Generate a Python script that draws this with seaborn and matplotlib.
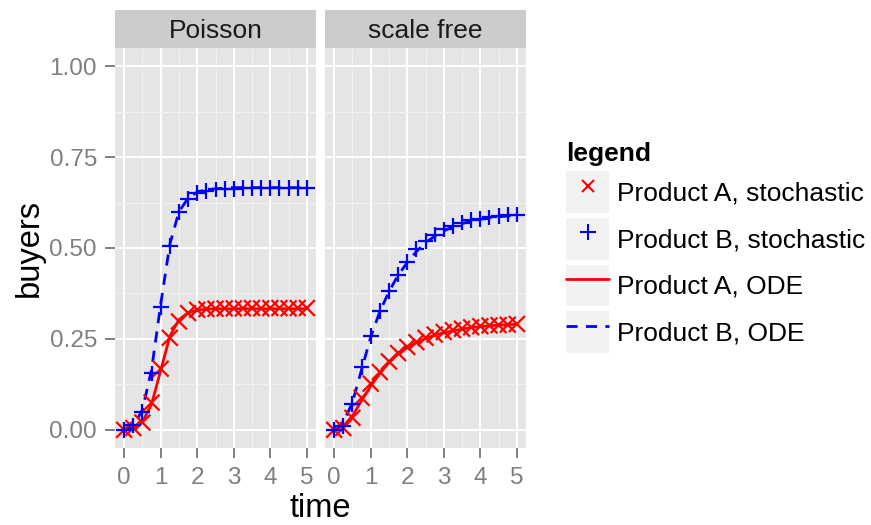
import pandas as pd
import matplotlib
matplotlib.use("Agg")
import matplotlib.pyplot as plt
from matplotlib.lines import Line2D
from matplotlib.patches import Patch
from matplotlib.ticker import MultipleLocator
import seaborn as sns

# 1. Data
time = [0.0, 0.25, 0.5, 0.75, 1.0, 1.25, 1.5, 1.75, 2.0, 2.25, 2.5,
        2.75, 3.0, 3.25, 3.5, 3.75, 4.0, 4.25, 4.5, 4.75, 5.0]
networks = ["Poisson", "scale free"]

# Poisson network
poisson_a_stoch = [0.0, 0.005, 0.02, 0.075, 0.168, 0.253, 0.298, 0.321, 0.330, 0.332, 0.333,
                   0.334, 0.334, 0.334, 0.335, 0.334, 0.335, 0.335, 0.334, 0.335, 0.335]
poisson_b_stoch = [0.0, 0.012, 0.05, 0.155, 0.337, 0.505, 0.598, 0.634, 0.652, 0.657, 0.661,
                   0.662, 0.663, 0.664, 0.664, 0.665, 0.665, 0.665, 0.665, 0.666, 0.665]
poisson_a_ode = [0.0, 0.004, 0.022, 0.07, 0.163, 0.257, 0.303, 0.322, 0.329, 0.332, 0.333,
                 0.333, 0.333, 0.333, 0.333, 0.333, 0.333, 0.333, 0.333, 0.333, 0.333]
poisson_b_ode = [0.0, 0.01, 0.055, 0.165, 0.345, 0.51, 0.60, 0.637, 0.654, 0.66, 0.663,
                 0.665, 0.666, 0.666, 0.666, 0.666, 0.666, 0.666, 0.666, 0.666, 0.666]

# scale free network
scalefree_a_stoch = [0.0, 0.005, 0.033, 0.088, 0.127, 0.159, 0.188, 0.211, 0.228, 0.241, 0.253,
                     0.262, 0.269, 0.274, 0.278, 0.282, 0.285, 0.287, 0.288, 0.289, 0.291]
scalefree_b_stoch = [0.0, 0.011, 0.072, 0.172, 0.259, 0.326, 0.381, 0.427, 0.461, 0.498, 0.519,
                     0.537, 0.551, 0.56, 0.57, 0.577, 0.58, 0.584, 0.588, 0.592, 0.592]
scalefree_a_ode = [0.0, 0.01, 0.038, 0.08, 0.12, 0.155, 0.185, 0.208, 0.226, 0.24, 0.251,
                   0.26, 0.267, 0.272, 0.277, 0.281, 0.284, 0.286, 0.288, 0.289, 0.29]
scalefree_b_ode = [0.0, 0.02, 0.075, 0.165, 0.255, 0.325, 0.38, 0.425, 0.46, 0.49, 0.515,
                   0.532, 0.547, 0.558, 0.567, 0.574, 0.579, 0.583, 0.586, 0.588, 0.59]

series = {
    ("Poisson", "A", "stochastic"): poisson_a_stoch,
    ("Poisson", "B", "stochastic"): poisson_b_stoch,
    ("Poisson", "A", "ODE"): poisson_a_ode,
    ("Poisson", "B", "ODE"): poisson_b_ode,
    ("scale free", "A", "stochastic"): scalefree_a_stoch,
    ("scale free", "B", "stochastic"): scalefree_b_stoch,
    ("scale free", "A", "ODE"): scalefree_a_ode,
    ("scale free", "B", "ODE"): scalefree_b_ode,
}

# 2. Long table
rows = []
for (net, prod, kind), vals in series.items():
    for t, v in zip(time, vals):
        rows.append({"network": net, "product": prod, "kind": kind, "time": t, "buyers": v})
df = pd.DataFrame(rows)

# 3. Style (ggplot-like grey theme)
sns.set_theme(style="darkgrid", rc={
    "axes.facecolor": "#E5E5E5",
    "grid.color": "white",
    "xtick.color": "#7F7F7F",
    "ytick.color": "#7F7F7F",
    "xtick.labelcolor": "#7F7F7F",
    "ytick.labelcolor": "#7F7F7F",
    "text.color": "black",
})
plt.rcParams["font.family"] = ["Liberation Sans", "DejaVu Sans"]

palette = {"A": "red", "B": "blue"}

fig = plt.figure(figsize=(8.71, 5.25), dpi=100)
W, H = 871, 525
panel_x = [115, 325]
panel_w = 201
panel_top, panel_bot = 48, 448

for i, net in enumerate(networks):
    ax = fig.add_axes([panel_x[i] / W, 1 - panel_bot / H, panel_w / W, (panel_bot - panel_top) / H])
    sub = df[df["network"] == net]
    ode = sub[sub["kind"] == "ODE"]
    sto = sub[sub["kind"] == "stochastic"]

    sns.lineplot(data=ode, x="time", y="buyers", hue="product", style="product",
                 palette=palette, dashes={"A": "", "B": (4, 3)}, linewidth=2,
                 estimator=None, legend=False, ax=ax)
    sns.scatterplot(data=sto, x="time", y="buyers", hue="product", style="product",
                    palette=palette, markers={"A": "x", "B": "+"}, s=130, linewidth=1.6,
                    legend=False, ax=ax, zorder=3)

    ax.set_xlim(-0.25, 5.25)
    ax.set_ylim(-0.05, 1.05)
    ax.set_xticks(range(6))
    ax.set_yticks([0, 0.25, 0.5, 0.75, 1.0])
    ax.set_yticklabels([f"{v:.2f}" for v in [0, 0.25, 0.5, 0.75, 1.0]])
    ax.xaxis.set_minor_locator(MultipleLocator(0.5))
    ax.yaxis.set_minor_locator(MultipleLocator(0.125))
    ax.grid(which="major", color="white", linewidth=1.4)
    ax.grid(which="minor", color="#F2F2F2", linewidth=0.7)
    ax.set_axisbelow(True)
    ax.tick_params(which="major", length=7, width=1.4, labelsize=17.5)
    ax.tick_params(axis="y", pad=6)
    ax.tick_params(axis="x", pad=7)
    ax.tick_params(which="minor", length=0)
    ax.tick_params(bottom=True, left=(i == 0), labelleft=(i == 0))
    ax.set_xlabel("")
    ax.set_ylabel("")
    for s in ax.spines.values():
        s.set_visible(False)

    # facet strip
    sax = fig.add_axes([panel_x[i] / W, 1 - panel_top / H, panel_w / W, 38 / H])
    sax.set_facecolor("#CCCCCC")
    sax.set_xticks([])
    sax.set_yticks([])
    sax.grid(False)
    for s in sax.spines.values():
        s.set_visible(False)
    sax.text(0.5, 0.45, net, ha="center", va="center", fontsize=19, color="#1A1A1A")

fig.text(320.5 / W, 1 - 517 / H, "time", ha="center", va="baseline", fontsize=23.5)
fig.text(29 / W, 1 - 248 / H, "buyers", ha="center", va="center", rotation=90, fontsize=23.5)

# legend with grey key boxes
key = Patch(facecolor="#F2F2F2", edgecolor="none")
handles = [
    (key, Line2D([], [], color="red", marker="x", ls="none", ms=9, mew=1.5)),
    (key, Line2D([], [], color="blue", marker="+", ls="none", ms=12, mew=1.5)),
    (key, Line2D([], [], color="red", lw=2)),
    (key, Line2D([], [], color="blue", lw=2, ls=(0, (4, 3)))),
]
labels = ["Product A, stochastic", "Product B, stochastic", "Product A, ODE", "Product B, ODE"]
fig.legend(handles, labels, title="legend", loc="upper left",
           bbox_to_anchor=(566 / W, 1 - 142 / H), frameon=False, fontsize=19,
           labelcolor="black",
           title_fontproperties={"weight": "bold", "size": 19},
           handlelength=1.63, handleheight=2.06, handletextpad=0.3,
           labelspacing=0.19, borderpad=0, borderaxespad=0, alignment="left")

fig.savefig("out.png", dpi=100)
